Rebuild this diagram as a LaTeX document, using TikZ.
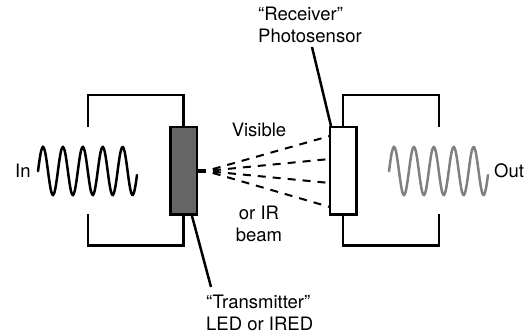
\documentclass[tikz,border=0pt]{standalone}
\usepackage{fontspec}
\setmainfont{TeX Gyre Heros}
\tikzset{
  wire/.style={line width=2.5pt},
  sensor/.style={draw,rectangle,line width=2.5pt,minimum width=26.5pt,minimum height=87.5pt,outer sep=0pt},
  wave/.style={line width=2.5pt,smooth,line cap=round},
  beam/.style={line width=2pt,dash pattern=on 8pt off 7pt,dash phase=8pt},
  caption/.style={inner sep=0pt,align=left,font=\fontsize{18.5}{22}\selectfont}
}

\begin{document}
\begin{tikzpicture}[x=1pt,y=-1pt]
  \useasboundingbox (0,0) rectangle (531,334);

  \node[sensor,fill=black!60] (tx) at (183.5,171) {};
  \node[sensor,fill=white] (rx) at (343,171) {};

  \node[caption,anchor=north west] (rxlabel) at (258,7) {``Receiver''\\Photosensor};
  \node[caption,anchor=north west] (txlabel) at (206,295) {``Transmitter''\\LED or IRED};
  \node[caption,anchor=base] (visible) at (259,136.5) {Visible};
  \node[caption,align=center,anchor=north] (orir) at (259,206) {or IR\\beam};
  \node[caption,anchor=base west] (in) at (15,178) {In};
  \node[caption,anchor=base west] (out) at (494,178) {Out};

  \coordinate (intop) at (88,127);
  \coordinate (inbot) at (88,214);
  \coordinate (outtop) at (439,127);
  \coordinate (outbot) at (439,214);
  \coordinate (src) at (206,171);
  \coordinate (txstart) at (192,216);
  \coordinate (txend) at (211,287);
  \coordinate (rxstart) at (331,126);
  \coordinate (rxend) at (312,47);

  \draw[wire] (tx.north) -- ++(0,-32) -| (intop);
  \draw[wire] (tx.south) -- ++(0,31) -| (inbot);
  \draw[wire] (rx.north) -- ++(0,-32) -| (outtop);
  \draw[wire] (rx.south) -- ++(0,31) -| (outbot);

  \draw[wire] (txstart) -- (txend);
  \draw[wire] (rxstart) -- (rxend);

  \draw[wave] plot[domain=38:137,samples=120] (\x,{171-24*cos(18.09*(\x-43))});
  \draw[wave,black!50] plot[domain=389:488,samples=120] (\x,{171-24*cos(18.09*(\x-394))});

  \draw[line width=4pt] (tx.east |- src) -- (src);
  \foreach \y in {136,159,183,207}
    \draw[beam] (src) -- (rx.west |- 0,\y);
\end{tikzpicture}
\end{document}
